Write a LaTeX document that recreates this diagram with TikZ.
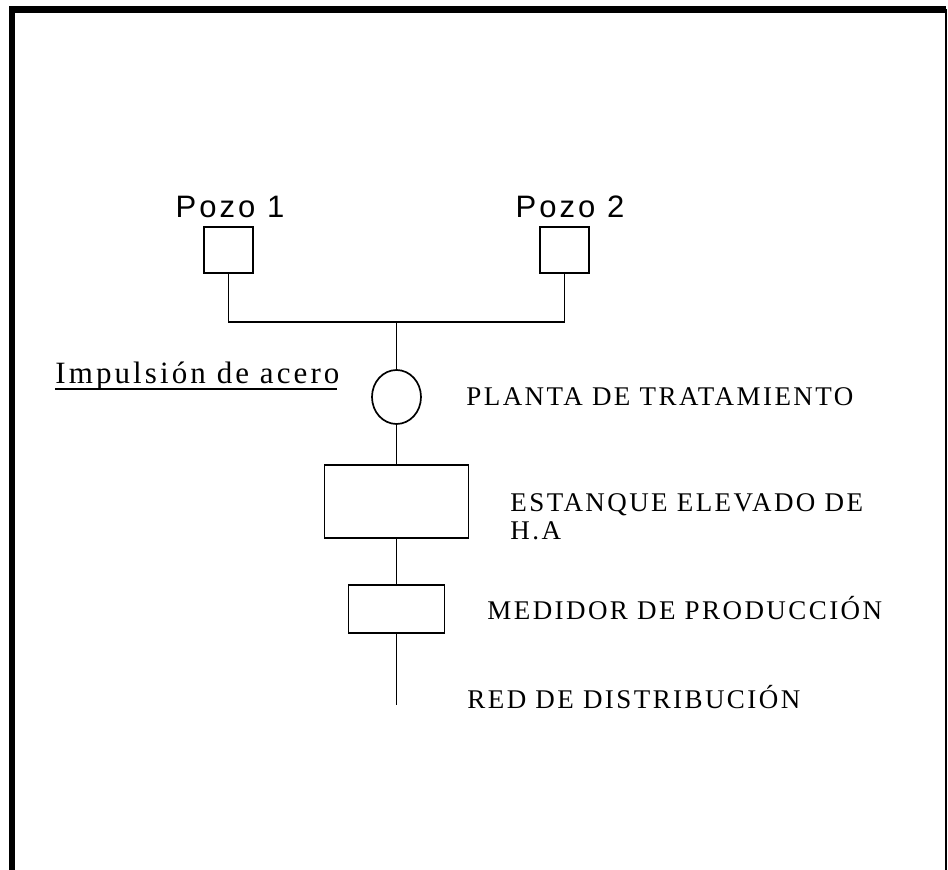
\documentclass[tikz,border=0pt]{standalone}
\usepackage{fontspec}
\usetikzlibrary{positioning}
\usetikzlibrary{shapes.geometric}
\newfontfamily\serifesp[LetterSpace=9]{Liberation Serif}
\newfontfamily\serifimp[LetterSpace=10]{Liberation Serif}
\newfontfamily\sansesp[LetterSpace=10]{Liberation Sans}

\begin{document}
\begin{tikzpicture}[x=0.5pt,y=-0.5pt,
  tubo/.style={line width=0.85pt},
  caja/.style={draw,rectangle,line width=0.85pt,inner sep=0pt},
  valvula/.style={draw,ellipse,line width=0.85pt,inner sep=0pt,minimum width=24.5pt,minimum height=27pt},
  rotulo/.style={font=\serifesp\fontsize{13.5}{13.5}\selectfont,anchor=base west,inner sep=0pt},
  pozolbl/.style={font=\sansesp\fontsize{15.5}{15.5}\selectfont,anchor=base,inner sep=0pt}]
\clip (0,0) rectangle (948,870);
% marco
\draw[line width=3.4pt] (12,900) |- (946,9.5);
\draw[line width=1pt] (946,9.5) -- (946,900);

% pozos
\node[caja,minimum width=24.5pt,minimum height=23pt] (pozoA) at (228.5,250) {};
\node[caja,minimum width=24.5pt,minimum height=23pt] (pozoB) at (564.5,250) {};
\node[pozolbl] (lblA) at (230,218) {Pozo 1};
\node[pozolbl] (lblB) at (570,218) {Pozo 2};
\coordinate (junta) at (396.5,321.7);

% linea principal
\node[valvula] (planta) at (396.5,397) {};
\node[caja,minimum width=72pt,minimum height=36.5pt] (estanque) at (396.5,501.5) {};
\node[caja,minimum width=48pt,minimum height=24pt] (medidor) at (396.5,609) {};
\coordinate (red) at (396.5,705);

\draw[tubo] (pozoA.south) |- (junta) -| (pozoB.south);
\draw[tubo] (junta) -- (planta.north);
\draw[tubo] (planta.south) -- (estanque.north);
\draw[tubo] (estanque.south) -- (medidor.north);
\draw[tubo] (medidor.south) -- (red);

% rotulos
\node[rotulo,font=\serifimp\fontsize{15.5}{15.5}\selectfont] (imp) at (55,384) {Impulsión de acero};
\draw[line width=0.9pt] ([yshift=-2.5pt]imp.base west) -- ([yshift=-2.5pt,xshift=-1.5pt]imp.base east);
\node[rotulo] (lplanta) at (466,406) {PLANTA DE TRATAMIENTO};
\node[rotulo] (lest) at (510,512) {ESTANQUE ELEVADO DE};
\node[rotulo] (lha) at (510,540) {H.A};
\node[rotulo] (lmed) at (487,620) {MEDIDOR DE PRODUCCIÓN};
\node[rotulo] (lred) at (467,709) {RED DE DISTRIBUCIÓN};

\end{tikzpicture}
\end{document}
